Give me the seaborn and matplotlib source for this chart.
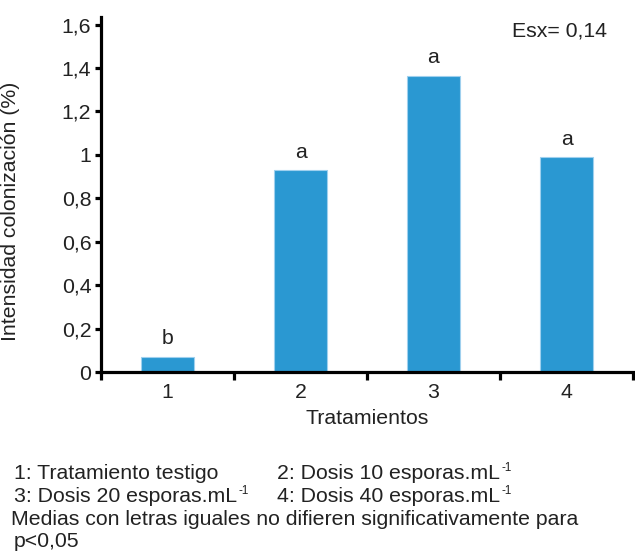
import matplotlib
matplotlib.use("Agg")
import matplotlib.pyplot as plt
from matplotlib.ticker import FixedLocator, FuncFormatter
import seaborn as sns
import pandas as pd

# Datos: intensidad media de colonización por tratamiento
tratamientos = ["1", "2", "3", "4"]
intensidad = [0.07, 0.93, 1.365, 0.99]
letras = ["b", "a", "a", "a"]
y_ticks = [0, 0.2, 0.4, 0.6, 0.8, 1.0, 1.2, 1.4, 1.6]
esx_texto = "Esx= 0,14"

FS = 15.3
TXT = "#222222"

sns.set_theme(style="white")
plt.rcParams["font.family"] = ["Liberation Sans", "DejaVu Sans"]

df = pd.DataFrame({"Tratamiento": tratamientos, "Intensidad": intensidad})

fig = plt.figure(figsize=(6.35, 5.59), dpi=100)
ax = fig.add_axes([101 / 635, 1 - 372 / 559, 532 / 635, 355 / 559])

sns.barplot(data=df, x="Tratamiento", y="Intensidad", ax=ax,
            color="#2A98D2", saturation=1, width=0.4,
            edgecolor="#9fd0ee", linewidth=0.8)

ax.set_xlim(-0.5, 3.5)
ax.set_ylim(0, 1.635)

# Ejes: solo izquierdo e inferior, gruesos
for side in ["top", "right"]:
    ax.spines[side].set_visible(False)
for side in ["left", "bottom"]:
    ax.spines[side].set_color("black")
    ax.spines[side].set_linewidth(2.3)

ax.yaxis.set_major_locator(FixedLocator(y_ticks))
ax.yaxis.set_major_formatter(FuncFormatter(
    lambda v, p: ("%g" % round(v, 1)).replace(".", ",")))
ax.tick_params(axis="y", which="major", direction="out", length=4,
               width=2.3, color="black", labelsize=FS, pad=3,
               labelcolor=TXT, left=True)

# Etiquetas de categoría sin marca; marcas entre categorías
ax.tick_params(axis="x", which="major", length=0, labelsize=FS, pad=8,
               labelcolor=TXT)
ax.xaxis.set_minor_locator(FixedLocator([-0.5, 0.5, 1.5, 2.5, 3.5]))
ax.tick_params(axis="x", which="minor", direction="out", length=6,
               width=2.3, color="black", bottom=True)
for t in ax.xaxis.get_minorticklines():
    t.set_clip_on(False)

ax.set_xlabel("Tratamientos", fontsize=FS, color=TXT, labelpad=5)
ax.set_ylabel("Intensidad colonización (%)", fontsize=FS, color=TXT)
ax.yaxis.set_label_coords(-0.152, 0.4535)

# Letras de significación sobre cada barra
for i, (v, l) in enumerate(zip(intensidad, letras)):
    ax.annotate(l, (i, v), xytext=(0, 6), textcoords="offset points",
                ha="center", va="bottom", fontsize=FS, color=TXT)

ax.text(0.772, 0.96, esx_texto, transform=ax.transAxes, fontsize=FS,
        ha="left", va="center", color=TXT)

# Leyenda de tratamientos al pie
cap = dict(fontsize=FS, color=TXT, va="baseline", ha="left")
renderer = fig.canvas.get_renderer()


def linea(x, y, texto, exponente=None):
    t = fig.text(x / 635, 1 - y / 559, texto, **cap)
    if exponente:
        bb = t.get_window_extent(renderer=renderer)
        fig.text(bb.x1 / fig.bbox.width + 1 / 635, 1 - (y - 8) / 559,
                 exponente, fontsize=FS * 0.55, color=TXT,
                 va="baseline", ha="left")


linea(14, 479, "1: Tratamiento testigo")
linea(277, 479, "2: Dosis 10 esporas.mL", "-1")
linea(14, 502, "3: Dosis 20 esporas.mL", "-1")
linea(277, 502, "4: Dosis 40 esporas.mL", "-1")
linea(11, 525, "Medias con letras iguales no difieren significativamente para")
linea(14, 547, "p<0,05")

fig.savefig("out.png", dpi=100)
